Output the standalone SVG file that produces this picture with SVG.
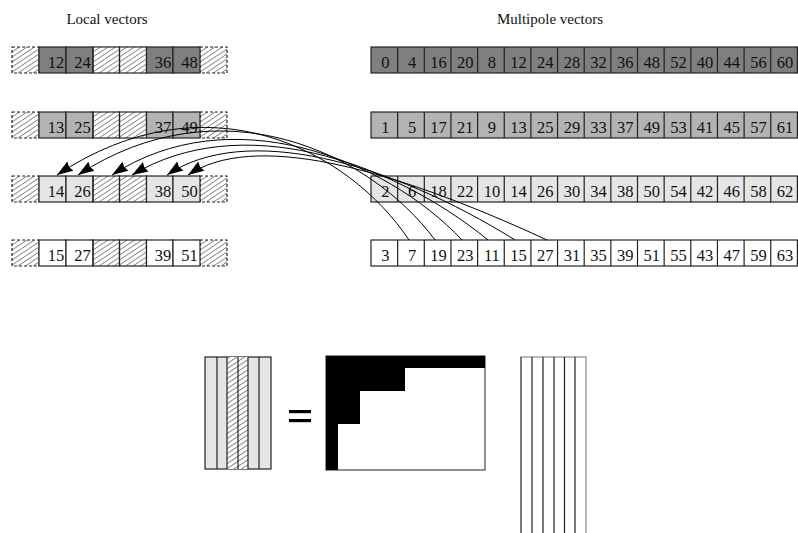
<svg xmlns="http://www.w3.org/2000/svg" xmlns:xlink="http://www.w3.org/1999/xlink" width="798" height="533" viewBox="0 0 798 533">
<style>
text{font-family:"Liberation Serif","Times New Roman",serif;font-size:16.5px;fill:#111;text-anchor:middle}
text.t{font-size:15px}
.c{stroke:#222;stroke-width:1.2}
.r1{fill:#7f7f7f}.r2{fill:#b3b3b3}.r3{fill:#e5e5e5}.r4{fill:#fff}
.h{fill:none;stroke:#222;stroke-width:1.2}
.hd{fill:none;stroke:#222;stroke-width:1.2;stroke-dasharray:3,2}
.hl{fill:none;stroke:#444;stroke-width:0.7}
.con{fill:none;stroke:#000;stroke-width:1}
</style>
<defs>
<symbol id="hs" viewBox="0 0 27 26" overflow="hidden">
<rect width="27" height="26" fill="#fff"/>
<path class="hl" d="M-1,0.7L28,-18.7M-1,5.7L28,-13.7M-1,10.7L28,-8.7M-1,15.7L28,-3.7M-1,20.7L28,1.3M-1,25.7L28,6.3M-1,30.7L28,11.3M-1,35.7L28,16.3M-1,40.7L28,21.3M-1,45.7L28,26.3M-1,50.7L28,31.3"/>
</symbol>
<pattern id="hatch" patternUnits="userSpaceOnUse" width="7.5" height="5">
<rect width="7.5" height="5" fill="#fff"/>
<path d="M0,5 L7.5,0 M-3.75,2.5 L3.75,-2.5 M3.75,7.5 L11.25,2.5" stroke="#333" stroke-width="0.7" fill="none"/>
</pattern>
<marker id="ah" markerUnits="userSpaceOnUse" markerWidth="22" markerHeight="14" viewBox="-18 -7 20 14" refX="0" refY="0" orient="auto-start-reverse">
<path d="M0,0 L-16,-5.5 L-14.5,0 L-16,5.5 Z" fill="#000"/>
</marker>
</defs>
<rect width="798" height="533" fill="#fff"/>
<text class="t" x="107" y="24">Local vectors</text>
<text class="t" x="550" y="24">Multipole vectors</text>

<g id="local1">
<use xlink:href="#hs" href="#hs" x="12" y="47" width="27" height="26"/><use xlink:href="#hs" href="#hs" x="200" y="47" width="27" height="26"/>
<use xlink:href="#hs" href="#hs" x="93" y="47" width="27" height="26"/><use xlink:href="#hs" href="#hs" x="119.5" y="47" width="27" height="26"/>
<rect class="hd" x="12" y="47" width="27" height="26"/><rect class="hd" x="200" y="47" width="27" height="26"/>
<rect class="c r1" x="39" y="47" width="27" height="26"/><rect class="c r1" x="66" y="47" width="27" height="26"/>
<rect class="h" x="93" y="47" width="26.5" height="26"/><rect class="h" x="119.5" y="47" width="27" height="26"/>
<rect class="c r1" x="146.5" y="47" width="26.5" height="26"/><rect class="c r1" x="173" y="47" width="27" height="26"/>
<text x="56" y="67.5">12</text><text x="82.5" y="67.5">24</text><text x="163" y="67.5">36</text><text x="189.5" y="67.5">48</text>
</g>
<g id="local2">
<use xlink:href="#hs" href="#hs" x="12" y="112" width="27" height="26"/><use xlink:href="#hs" href="#hs" x="200" y="112" width="27" height="26"/>
<use xlink:href="#hs" href="#hs" x="93" y="112" width="27" height="26"/><use xlink:href="#hs" href="#hs" x="119.5" y="112" width="27" height="26"/>
<rect class="hd" x="12" y="112" width="27" height="26"/><rect class="hd" x="200" y="112" width="27" height="26"/>
<rect class="c r2" x="39" y="112" width="27" height="26"/><rect class="c r2" x="66" y="112" width="27" height="26"/>
<rect class="h" x="93" y="112" width="26.5" height="26"/><rect class="h" x="119.5" y="112" width="27" height="26"/>
<rect class="c r2" x="146.5" y="112" width="26.5" height="26"/><rect class="c r2" x="173" y="112" width="27" height="26"/>
<text x="56" y="132.5">13</text><text x="82.5" y="132.5">25</text><text x="163" y="132.5">37</text><text x="189.5" y="132.5">49</text>
</g>
<g id="local3">
<use xlink:href="#hs" href="#hs" x="12" y="176" width="27" height="26"/><use xlink:href="#hs" href="#hs" x="200" y="176" width="27" height="26"/>
<use xlink:href="#hs" href="#hs" x="93" y="176" width="27" height="26"/><use xlink:href="#hs" href="#hs" x="119.5" y="176" width="27" height="26"/>
<rect class="hd" x="12" y="176" width="27" height="26"/><rect class="hd" x="200" y="176" width="27" height="26"/>
<rect class="c r3" x="39" y="176" width="27" height="26"/><rect class="c r3" x="66" y="176" width="27" height="26"/>
<rect class="h" x="93" y="176" width="26.5" height="26"/><rect class="h" x="119.5" y="176" width="27" height="26"/>
<rect class="c r3" x="146.5" y="176" width="26.5" height="26"/><rect class="c r3" x="173" y="176" width="27" height="26"/>
<text x="56" y="196.5">14</text><text x="82.5" y="196.5">26</text><text x="163" y="196.5">38</text><text x="189.5" y="196.5">50</text>
</g>
<g id="local4">
<use xlink:href="#hs" href="#hs" x="12" y="240" width="27" height="26"/><use xlink:href="#hs" href="#hs" x="200" y="240" width="27" height="26"/>
<use xlink:href="#hs" href="#hs" x="93" y="240" width="27" height="26"/><use xlink:href="#hs" href="#hs" x="119.5" y="240" width="27" height="26"/>
<rect class="hd" x="12" y="240" width="27" height="26"/><rect class="hd" x="200" y="240" width="27" height="26"/>
<rect class="c r4" x="39" y="240" width="27" height="26"/><rect class="c r4" x="66" y="240" width="27" height="26"/>
<rect class="h" x="93" y="240" width="26.5" height="26"/><rect class="h" x="119.5" y="240" width="27" height="26"/>
<rect class="c r4" x="146.5" y="240" width="26.5" height="26"/><rect class="c r4" x="173" y="240" width="27" height="26"/>
<text x="56" y="260.5">15</text><text x="82.5" y="260.5">27</text><text x="163" y="260.5">39</text><text x="189.5" y="260.5">51</text>
</g>

<g id="multi1">
<rect class="c r1" x="371" y="47" width="426.4" height="26"/>
<path class="c" d="M397.65,47v26M424.3,47v26M450.95,47v26M477.6,47v26M504.25,47v26M530.9,47v26M557.55,47v26M584.2,47v26M610.85,47v26M637.5,47v26M664.15,47v26M690.8,47v26M717.45,47v26M744.1,47v26M770.75,47v26"/>
<text x="385.3" y="67.5">0</text><text x="412" y="67.5">4</text><text x="438.6" y="67.5">16</text><text x="465.3" y="67.5">20</text><text x="491.9" y="67.5">8</text><text x="518.6" y="67.5">12</text><text x="545.2" y="67.5">24</text><text x="571.9" y="67.5">28</text><text x="598.5" y="67.5">32</text><text x="625.2" y="67.5">36</text><text x="651.8" y="67.5">48</text><text x="678.5" y="67.5">52</text><text x="705.1" y="67.5">40</text><text x="731.8" y="67.5">44</text><text x="758.4" y="67.5">56</text><text x="785.1" y="67.5">60</text>
</g>
<g id="multi2">
<rect class="c r2" x="371" y="112" width="426.4" height="26"/>
<path class="c" d="M397.65,112v26M424.3,112v26M450.95,112v26M477.6,112v26M504.25,112v26M530.9,112v26M557.55,112v26M584.2,112v26M610.85,112v26M637.5,112v26M664.15,112v26M690.8,112v26M717.45,112v26M744.1,112v26M770.75,112v26"/>
<text x="385.3" y="132.5">1</text><text x="412" y="132.5">5</text><text x="438.6" y="132.5">17</text><text x="465.3" y="132.5">21</text><text x="491.9" y="132.5">9</text><text x="518.6" y="132.5">13</text><text x="545.2" y="132.5">25</text><text x="571.9" y="132.5">29</text><text x="598.5" y="132.5">33</text><text x="625.2" y="132.5">37</text><text x="651.8" y="132.5">49</text><text x="678.5" y="132.5">53</text><text x="705.1" y="132.5">41</text><text x="731.8" y="132.5">45</text><text x="758.4" y="132.5">57</text><text x="785.1" y="132.5">61</text>
</g>
<g id="multi3">
<rect class="c r3" x="371" y="176" width="426.4" height="26"/>
<path class="c" d="M397.65,176v26M424.3,176v26M450.95,176v26M477.6,176v26M504.25,176v26M530.9,176v26M557.55,176v26M584.2,176v26M610.85,176v26M637.5,176v26M664.15,176v26M690.8,176v26M717.45,176v26M744.1,176v26M770.75,176v26"/>
<text x="385.3" y="196.5">2</text><text x="412" y="196.5">6</text><text x="438.6" y="196.5">18</text><text x="465.3" y="196.5">22</text><text x="491.9" y="196.5">10</text><text x="518.6" y="196.5">14</text><text x="545.2" y="196.5">26</text><text x="571.9" y="196.5">30</text><text x="598.5" y="196.5">34</text><text x="625.2" y="196.5">38</text><text x="651.8" y="196.5">50</text><text x="678.5" y="196.5">54</text><text x="705.1" y="196.5">42</text><text x="731.8" y="196.5">46</text><text x="758.4" y="196.5">58</text><text x="785.1" y="196.5">62</text>
</g>
<g id="multi4">
<rect class="c r4" x="371" y="240" width="426.4" height="26"/>
<path class="c" d="M397.65,240v26M424.3,240v26M450.95,240v26M477.6,240v26M504.25,240v26M530.9,240v26M557.55,240v26M584.2,240v26M610.85,240v26M637.5,240v26M664.15,240v26M690.8,240v26M717.45,240v26M744.1,240v26M770.75,240v26"/>
<text x="385.3" y="260.5">3</text><text x="412" y="260.5">7</text><text x="438.6" y="260.5">19</text><text x="465.3" y="260.5">23</text><text x="491.9" y="260.5">11</text><text x="518.6" y="260.5">15</text><text x="545.2" y="260.5">27</text><text x="571.9" y="260.5">31</text><text x="598.5" y="260.5">35</text><text x="625.2" y="260.5">39</text><text x="651.8" y="260.5">51</text><text x="678.5" y="260.5">55</text><text x="705.1" y="260.5">43</text><text x="731.8" y="260.5">47</text><text x="758.4" y="260.5">59</text><text x="785.1" y="260.5">63</text>
</g>

<g id="connectors">
<path class="con" marker-start="url(#ah)" d="M57,175 C207,75 349,150 409,240"/>
<path class="con" marker-start="url(#ah)" d="M78,175 C220,82 370,152 435,240"/>
<path class="con" marker-start="url(#ah)" d="M112,175 C230,98 385,158 462,240"/>
<path class="con" marker-start="url(#ah)" d="M132,175 C240,110 390,160 488,240"/>
<path class="con" marker-start="url(#ah)" d="M167,175 C245,122 390,162 515,240"/>
<path class="con" marker-start="url(#ah)" d="M188,175 C252,132 385,165 547,240"/>
</g>

<g id="matrixL">
<rect x="205" y="357" width="66" height="112" fill="#e5e5e5" stroke="#222" stroke-width="1.2"/>
<rect x="227" y="357" width="21" height="112" fill="url(#hatch)"/>
<path d="M217,357v112M227,357v112M238,357v112M248,357v112M259,357v112" stroke="#222" stroke-width="1.2"/>
</g>
<g id="equals">
<rect x="289" y="410" width="22" height="3.2" fill="#000"/>
<rect x="289" y="419" width="22" height="3.2" fill="#000"/>
</g>
<g id="matrixM">
<rect x="326" y="356" width="159" height="114" fill="#fff" stroke="#222" stroke-width="1"/>
<polygon points="326,356 485,356 485,368 405,368 405,391 360,391 360,424 338,424 338,470 326,470" fill="#000"/>
</g>
<g id="matrixR">
<line x1="520.5" y1="357" x2="586.5" y2="357" stroke="#777" stroke-width="1.2"/>
<path d="M521,357V533M532,357V533M543,357V533M554,357V533M564.5,357V533M575,357V533" stroke="#222" stroke-width="1.2"/>
<path d="M586,357V533" stroke="#888" stroke-width="1.2"/>
</g>
</svg>
